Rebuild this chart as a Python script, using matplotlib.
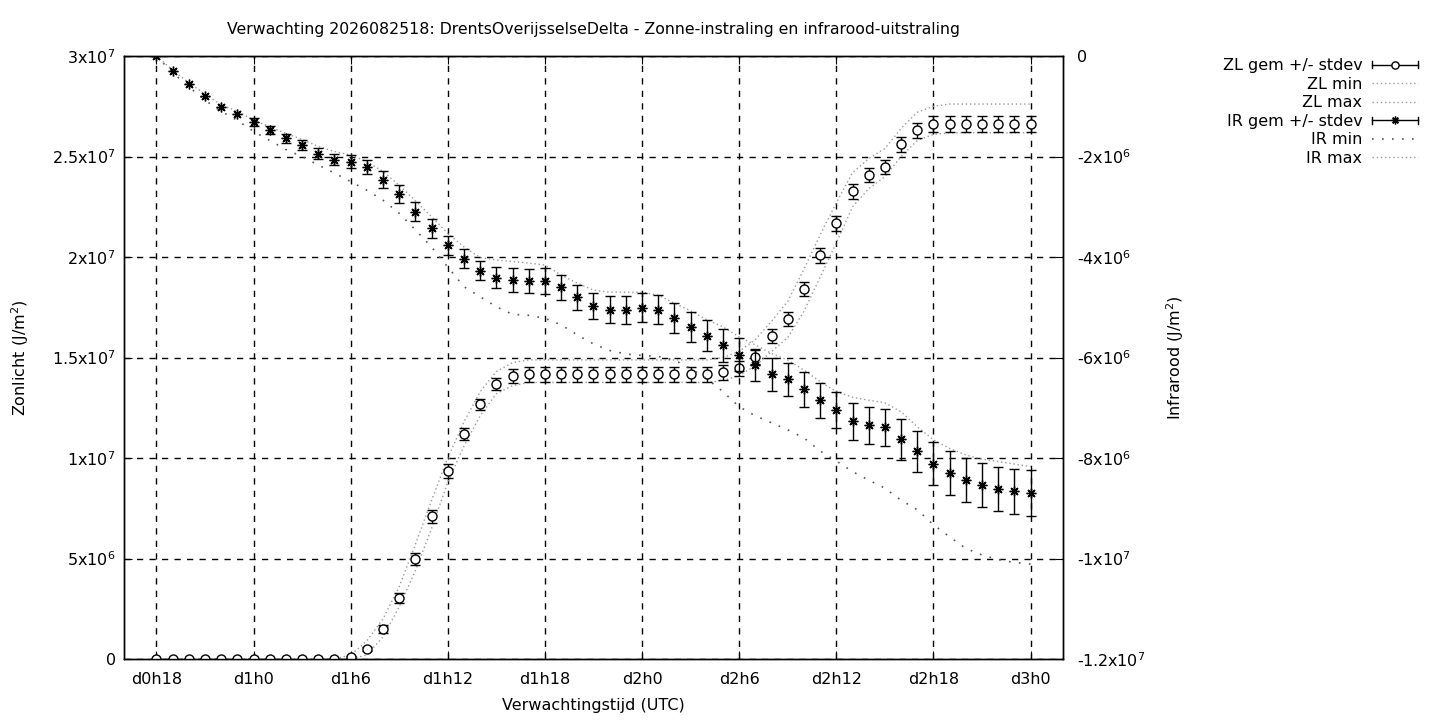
#!/usr/bin/env python3
"""Zonne-instraling en infrarood-uitstraling verwachting (gnuplot-achtige stijl)."""

import matplotlib
matplotlib.use("Agg")
import matplotlib.pyplot as plt
import numpy as np
from matplotlib.legend_handler import HandlerBase
from matplotlib.lines import Line2D

# uren sinds d0h0, elk uur van d0h18 t/m d3h0
HOURS = list(range(18, 73))

# Zonlicht (MJ/m2)
ZL_MEAN = [0, 0, 0, 0, 0, 0, 0, 0, 0, 0, 0, 0,
           0.1, 0.48, 1.48, 3.03, 4.96, 7.11, 9.35, 11.18, 12.67, 13.67, 14.08,
           14.17, 14.17, 14.17, 14.17, 14.17, 14.17, 14.17, 14.17, 14.17, 14.17, 14.17, 14.17,
           14.26, 14.46, 15.04, 16.07, 16.90, 18.40, 20.08, 21.68, 23.28, 24.06, 24.46, 25.60, 26.30,
           26.62, 26.62, 26.62, 26.62, 26.62, 26.62, 26.62]
ZL_STD = [0, 0, 0, 0, 0, 0, 0, 0, 0, 0, 0, 0,
          0.05, 0.1, 0.2, 0.25, 0.29, 0.32, 0.33, 0.3, 0.26, 0.3, 0.35,
          0.37, 0.37, 0.37, 0.37, 0.37, 0.37, 0.37, 0.37, 0.37, 0.37, 0.37, 0.37,
          0.37, 0.36, 0.34, 0.33, 0.34, 0.36, 0.37, 0.38, 0.37, 0.35, 0.35, 0.37, 0.38,
          0.4, 0.4, 0.4, 0.4, 0.4, 0.4, 0.4]
ZL_MIN = [0, 0, 0, 0, 0, 0, 0, 0, 0, 0, 0, 0, 0,
          0.2, 1.1, 2.6, 4.4, 6.5, 8.8, 10.6, 12.1, 13.2, 13.6,
          13.76, 13.76, 13.76, 13.76, 13.76, 13.76, 13.76, 13.76, 13.76, 13.76, 13.76, 13.76,
          13.85, 14.1, 14.6, 15.3, 16.0, 17.3, 19.0, 20.7, 22.5, 23.4, 24.0, 25.0, 25.8, 26.1,
          26.18, 26.18, 26.18, 26.18, 26.18, 26.18]
ZL_MAX = [0, 0, 0, 0, 0, 0, 0, 0, 0, 0, 0, 0,
          0.2, 0.9, 2.0, 3.6, 5.7, 7.9, 10.0, 11.8, 13.3, 14.3, 14.75,
          14.88, 14.88, 14.88, 14.88, 14.88, 14.88, 14.88, 14.88, 14.88, 14.88, 14.88, 14.88,
          15.0, 15.3, 15.9, 16.8, 17.8, 19.4, 21.1, 22.7, 24.2, 24.9, 25.4, 26.4, 27.2, 27.5,
          27.61, 27.61, 27.61, 27.61, 27.61, 27.61]

# Infrarood (MJ/m2)
IR_MEAN = [0.0, -0.30, -0.56, -0.80, -1.02, -1.16, -1.31, -1.48, -1.64, -1.78, -1.94, -2.06,
           -2.10, -2.21, -2.46, -2.75, -3.10, -3.43, -3.77, -4.03, -4.27, -4.41,
           -4.46, -4.48, -4.48, -4.60, -4.80, -4.97, -5.05, -5.05, -5.01, -5.05,
           -5.22, -5.40, -5.57, -5.76, -5.94, -6.15, -6.33, -6.43, -6.63, -6.85,
           -7.05, -7.27, -7.35, -7.39, -7.63, -7.87, -8.11, -8.30, -8.44, -8.54,
           -8.62, -8.66, -8.70]
IR_STD = [0, 0, 0, 0, 0, 0, 0.08, 0.08, 0.09, 0.10, 0.10, 0.115,
          0.13, 0.14, 0.17, 0.18, 0.19, 0.19, 0.19, 0.185, 0.19, 0.215,
          0.235, 0.245, 0.255, 0.25, 0.25, 0.26, 0.265, 0.28, 0.29, 0.285,
          0.30, 0.30, 0.31, 0.32, 0.32, 0.32, 0.33, 0.33, 0.35, 0.35,
          0.36, 0.37, 0.365, 0.375, 0.41, 0.41, 0.42, 0.43, 0.44, 0.44,
          0.44, 0.45, 0.455]
IR_MIN = [0.0, -0.33, -0.61, -0.88, -1.10, -1.28, -1.50, -1.68, -1.86, -2.00, -2.17, -2.33,
          -2.50, -2.67, -2.87, -3.13, -3.46, -3.80, -4.20, -4.59, -4.79, -4.99,
          -5.14, -5.16, -5.22, -5.35, -5.55, -5.73, -5.86, -5.93, -5.96, -5.98,
          -6.05, -6.22, -6.42, -6.68, -6.98, -7.16, -7.30, -7.44, -7.60, -7.86,
          -8.06, -8.27, -8.44, -8.60, -8.84, -9.03, -9.33, -9.57, -9.80, -9.93,
          -10.02, -10.08, -10.11]
IR_MAX = [0.0, -0.28, -0.53, -0.76, -0.97, -1.10, -1.27, -1.41, -1.54, -1.66, -1.80, -1.90,
          -1.97, -2.10, -2.30, -2.57, -2.88, -3.20, -3.53, -3.80, -4.01, -4.06,
          -4.09, -4.12, -4.16, -4.36, -4.52, -4.66, -4.70, -4.70, -4.70, -4.76,
          -4.92, -5.07, -5.25, -5.39, -5.59, -5.75, -5.92, -6.05, -6.25, -6.48,
          -6.68, -6.79, -6.85, -6.90, -7.08, -7.38, -7.64, -7.81, -7.94, -8.02,
          -8.07, -8.12, -8.17]

X_TICKS = [18, 24, 30, 36, 42, 48, 54, 60, 66, 72]
X_TICKLABELS = ["d0h18", "d1h0", "d1h6", "d1h12", "d1h18",
                "d2h0", "d2h6", "d2h12", "d2h18", "d3h0"]
ZL_TICKS = [0, 5e6, 1e7, 1.5e7, 2e7, 2.5e7, 3e7]
ZL_TICKLABELS = ["0", "5x10$^6$", "1x10$^7$", "1.5x10$^7$", "2x10$^7$", "2.5x10$^7$", "3x10$^7$"]
IR_TICKS = [-1.2e7, -1e7, -8e6, -6e6, -4e6, -2e6, 0]
IR_TICKLABELS = ["-1.2x10$^7$", "-1x10$^7$", "-8x10$^6$", "-6x10$^6$",
                 "-4x10$^6$", "-2x10$^6$", "0"]

TITLE = ("Verwachting 2026082518: DrentsOverijsselseDelta - "
         "Zonne-instraling en infrarood-uitstraling")

STAR = (8, 2, 0)
FINE_DOT = (0, (1, 2))
COARSE_DOT = (0, (1, 5))


class GemHandler(HandlerBase):
    """Legend sample like gnuplot: |---o---|"""

    def create_artists(self, legend, orig, xdescent, ydescent, width, height,
                       fontsize, trans):
        x0, x1 = -xdescent, width - xdescent
        y = height / 2 - ydescent
        h = height * 0.3
        arts = [
            Line2D([x0, x1], [y, y], color="black", lw=1),
            Line2D([x0, x0], [y - h, y + h], color="black", lw=1),
            Line2D([x1, x1], [y - h, y + h], color="black", lw=1),
            Line2D([(x0 + x1) / 2], [y], marker=orig.get_marker(),
                   mfc=orig.get_markerfacecolor(), mec="black",
                   ms=orig.get_markersize() * 0.8, mew=1, lw=0),
        ]
        for a in arts:
            a.set_transform(trans)
        return arts


def main():
    plt.rcParams["font.family"] = ["DejaVu Sans"]
    plt.rcParams["font.size"] = 11.5

    hours = np.array(HOURS)
    zl_mean = np.array(ZL_MEAN) * 1e6
    zl_std = np.array(ZL_STD) * 1e6
    ir_mean = np.array(IR_MEAN) * 1e6
    ir_std = np.array(IR_STD) * 1e6

    fig = plt.figure(figsize=(14.4, 7.2), dpi=100)
    ax = fig.add_axes([0.0861, 0.0847, 0.6521, 0.8375])
    ax2 = ax.twinx()

    # zonlicht op linker as
    m = zl_std > 0
    ax.errorbar(hours[m], zl_mean[m], yerr=zl_std[m], fmt="none", ecolor="black",
                elinewidth=1, capsize=3.5, capthick=1, zorder=3)
    ax.plot(hours, zl_mean, ls="none", marker="o", mfc="white", mec="black",
            ms=6.5, mew=1, zorder=4)
    ax.plot(hours, np.array(ZL_MIN) * 1e6, color="#999999", lw=1, ls=FINE_DOT, zorder=2)
    ax.plot(hours, np.array(ZL_MAX) * 1e6, color="#999999", lw=1, ls=FINE_DOT, zorder=2)

    # infrarood op rechter as
    m = ir_std > 0
    ax2.errorbar(hours[m], ir_mean[m], yerr=ir_std[m], fmt="none", ecolor="black",
                 elinewidth=1, capsize=3.5, capthick=1, zorder=3)
    ax2.plot(hours, ir_mean, ls="none", marker=STAR, color="black",
             ms=7, mew=1, zorder=4)
    ax2.plot(hours, np.array(IR_MIN) * 1e6, color="#555555", lw=1.2, ls=COARSE_DOT, zorder=2)
    ax2.plot(hours, np.array(IR_MAX) * 1e6, color="#999999", lw=1, ls=FINE_DOT, zorder=2)

    ax.set_xlim(16, 74)
    ax.set_ylim(0, 3e7)
    ax2.set_ylim(-1.2e7, 0)
    ax.set_xticks(X_TICKS)
    ax.set_xticklabels(X_TICKLABELS)
    ax.set_yticks(ZL_TICKS)
    ax.set_yticklabels(ZL_TICKLABELS)
    ax2.set_yticks(IR_TICKS)
    ax2.set_yticklabels(IR_TICKLABELS)

    ax.grid(True, color="black", lw=1, ls=(0, (4.5, 4.5)))
    ax.set_axisbelow(True)
    ax.tick_params(axis="x", direction="in", length=6, top=True, pad=9)
    ax.tick_params(axis="y", direction="in", length=6, pad=6)
    ax2.tick_params(direction="in", length=6, pad=10)
    for a in (ax, ax2):
        for s in a.spines.values():
            s.set_linewidth(1)

    ax.set_xlabel("Verwachtingstijd (UTC)", labelpad=8)
    ax.set_ylabel("Zonlicht (J/m$^2$)", labelpad=15)
    ax2.set_ylabel("Infrarood (J/m$^2$)", labelpad=14)
    ax.set_title(TITLE, fontsize=11.3, pad=16)

    zl_proxy = Line2D([], [], marker="o", mfc="white", mec="black", ms=6.5)
    ir_proxy = Line2D([], [], marker=STAR, mfc="black", mec="black", ms=7)
    handles = [
        zl_proxy,
        Line2D([], [], color="#999999", lw=1, ls=FINE_DOT),
        Line2D([], [], color="#999999", lw=1, ls=FINE_DOT),
        ir_proxy,
        Line2D([], [], color="#555555", lw=1.2, ls=COARSE_DOT),
        Line2D([], [], color="#999999", lw=1, ls=FINE_DOT),
    ]
    labels = ["ZL gem +/- stdev", "ZL min", "ZL max",
              "IR gem +/- stdev", "IR min", "IR max"]
    fig.legend(handles, labels, loc="upper right", bbox_to_anchor=(0.9905, 0.93),
               frameon=False, markerfirst=False, handlelength=2.9,
               handletextpad=0.6, labelspacing=0.22, borderpad=0,
               handler_map={zl_proxy: GemHandler(), ir_proxy: GemHandler()})

    fig.savefig("out.png", dpi=100)


if __name__ == "__main__":
    main()
